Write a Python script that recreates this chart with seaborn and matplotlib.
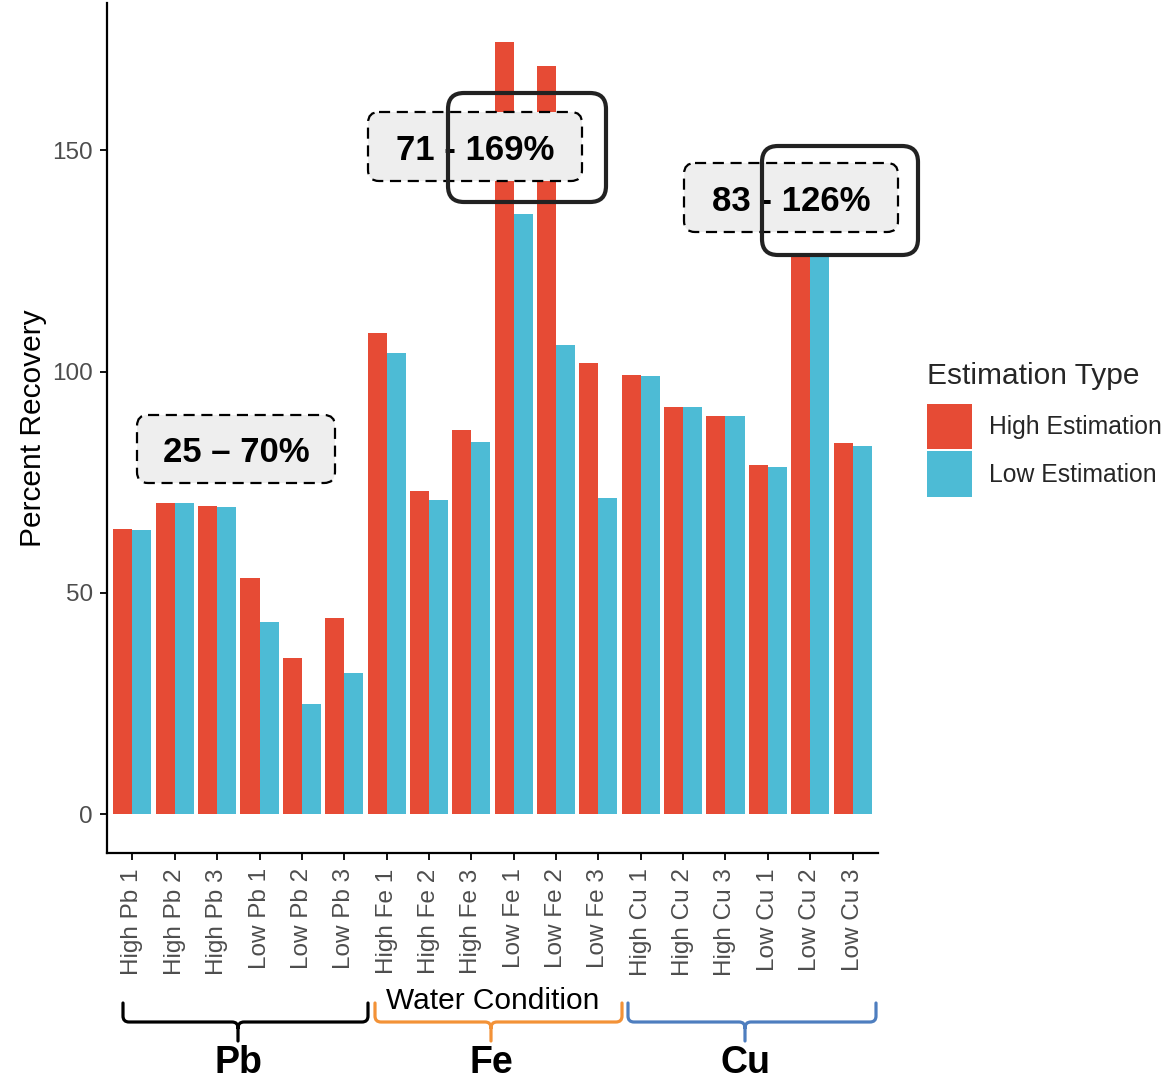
import matplotlib
matplotlib.use("Agg")
import matplotlib.pyplot as plt
import numpy as np
import pandas as pd
import seaborn as sns
from matplotlib.patches import FancyBboxPatch, PathPatch
from matplotlib.path import Path

# ---- data -------------------------------------------------------------
conditions = [
    "High Pb 1", "High Pb 2", "High Pb 3", "Low Pb 1", "Low Pb 2", "Low Pb 3",
    "High Fe 1", "High Fe 2", "High Fe 3", "Low Fe 1", "Low Fe 2", "Low Fe 3",
    "High Cu 1", "High Cu 2", "High Cu 3", "Low Cu 1", "Low Cu 2", "Low Cu 3",
]
high_estimation = [64.5, 70.4, 69.6, 53.3, 35.2, 44.3,
                   108.6, 73.0, 86.9, 174.5, 169.0, 102.0,
                   99.3, 92.0, 90.0, 78.9, 126.0, 83.8]
low_estimation = [64.3, 70.3, 69.4, 43.4, 25.0, 31.9,
                  104.1, 71.0, 84.0, 135.5, 106.1, 71.4,
                  99.0, 91.9, 89.9, 78.4, 125.9, 83.2]
estimation_types = ["High Estimation", "Low Estimation"]
metals = ["Pb", "Fe", "Cu"]
range_labels = ["25 \u2013 70%", "71 - 169%", "83 - 126%"]
y_ticks = [0, 50, 100, 150]

df = pd.DataFrame({
    "Water Condition": conditions * 2,
    "Estimation Type": [estimation_types[0]] * len(conditions)
                       + [estimation_types[1]] * len(conditions),
    "Percent Recovery": high_estimation + low_estimation,
})

# ---- style ------------------------------------------------------------
sns.set_theme(style="white")
plt.rcParams["font.family"] = ["Liberation Sans", "DejaVu Sans"]

W, H = 1171, 1080
fig = plt.figure(figsize=(W / 100, H / 100), dpi=100)
ax_l, ax_r, ax_t, ax_b = 107, 878, 3, 853
ax = fig.add_axes([ax_l / W, 1 - ax_b / H, (ax_r - ax_l) / W, (ax_b - ax_t) / H])

palette = {"High Estimation": "#E64B35", "Low Estimation": "#4DBBD5"}
sns.barplot(data=df, x="Water Condition", y="Percent Recovery",
            hue="Estimation Type", order=conditions, hue_order=estimation_types,
            palette=palette, width=0.9, saturation=1, linewidth=0, ax=ax)

ymax = max(high_estimation + low_estimation)
pad = 0.05 * ymax
ax.set_ylim(-pad, ymax + pad)
ax.set_xlim(-0.6, len(conditions) - 0.4)
ax.set_yticks(y_ticks)
ax.set_yticklabels([str(t) for t in y_ticks])

for s in ["top", "right"]:
    ax.spines[s].set_visible(False)
for s in ["left", "bottom"]:
    ax.spines[s].set_color("black")
    ax.spines[s].set_linewidth(1.6)
ax.tick_params(axis="both", which="major", length=5, width=1.3, color="black",
               labelsize=17.5, labelcolor="#4D4D4D", left=True, bottom=True)
ax.tick_params(axis="y", pad=5)
ax.tick_params(axis="x", pad=6)
plt.setp(ax.get_xticklabels(), rotation=90, ha="center", va="top")

ax.set_xlabel("Water Condition", fontsize=21.5, color="black", labelpad=8)
ax.set_ylabel("Percent Recovery", fontsize=21.5, color="black", labelpad=4)

# legend on the right
handles, labels = ax.get_legend_handles_labels()
ax.get_legend().remove()
leg = fig.legend(handles, labels, title="Estimation Type", loc="upper left",
                 bbox_to_anchor=(915 / W, 1 - 350 / H), frameon=False,
                 fontsize=17.8, title_fontsize=21.5, handlelength=1.8,
                 handleheight=2.45, labelspacing=0.1, handletextpad=0.7,
                 borderpad=0, alignment="left")
# extra room between the legend title and its entries
leg._legend_box.sep = 9.5

# ---- overlay in pixel coordinates for boxes and brackets --------------
ov = fig.add_axes([0, 0, 1, 1], zorder=5)
ov.set_xlim(0, W)
ov.set_ylim(H, 0)
ov.axis("off")
ov.patch.set_alpha(0)


def dashed_box(x0, y0, x1, y1, text):
    ov.add_patch(FancyBboxPatch((x0, y0), x1 - x0, y1 - y0,
                                boxstyle="round,pad=0,rounding_size=11",
                                facecolor="#EEEEEE", edgecolor="black",
                                linewidth=1.6, linestyle=(0, (5, 3)), zorder=1))
    ov.text((x0 + x1) / 2, (y0 + y1) / 2 + 4, text, ha="center", va="center",
            fontsize=25, fontweight="bold", color="black", zorder=2)


def solid_box(x0, y0, x1, y1):
    ov.add_patch(FancyBboxPatch((x0, y0), x1 - x0, y1 - y0,
                                boxstyle="round,pad=0,rounding_size=16",
                                facecolor="none", edgecolor="#222222",
                                linewidth=3.0, zorder=3))


dashed_box(137, 415, 335, 483, range_labels[0])
dashed_box(368, 112, 582, 181, range_labels[1])
solid_box(448, 93, 606, 202)
dashed_box(684, 163, 898, 232, range_labels[2])
solid_box(762, 146, 918, 255)


def bracket(x0, x1, xc, color, label):
    top, mid, tip, r = 1003, 1022, 1041, 6
    verts = [
        (x0, top), (x0, mid - r), (x0, mid), (x0 + r, mid),
        (xc - r, mid), (xc, mid), (xc, mid + r), (xc, tip),
        (xc, mid + r), (xc, mid), (xc + r, mid),
        (x1 - r, mid), (x1, mid), (x1, mid - r), (x1, top),
    ]
    codes = [Path.MOVETO, Path.LINETO, Path.CURVE3, Path.CURVE3,
             Path.LINETO, Path.CURVE3, Path.CURVE3, Path.LINETO,
             Path.MOVETO, Path.CURVE3, Path.CURVE3,
             Path.LINETO, Path.CURVE3, Path.CURVE3, Path.LINETO]
    ov.add_patch(PathPatch(Path(verts, codes), facecolor="none",
                           edgecolor=color, linewidth=2.3,
                           capstyle="round", joinstyle="round"))
    ov.text(xc, 1063, label, ha="center", va="center", fontsize=27,
            fontweight="bold", color="black")


bracket_spans = [(123, 368, 238), (375, 622, 491), (628, 876, 745)]
bracket_colors = ["black", "#F39237", "#4E7EBF"]
for (bx0, bx1, bxc), c, m in zip(bracket_spans, bracket_colors, metals):
    bracket(bx0, bx1, bxc, c, m)

fig.savefig("out.png", dpi=100, facecolor="white")
